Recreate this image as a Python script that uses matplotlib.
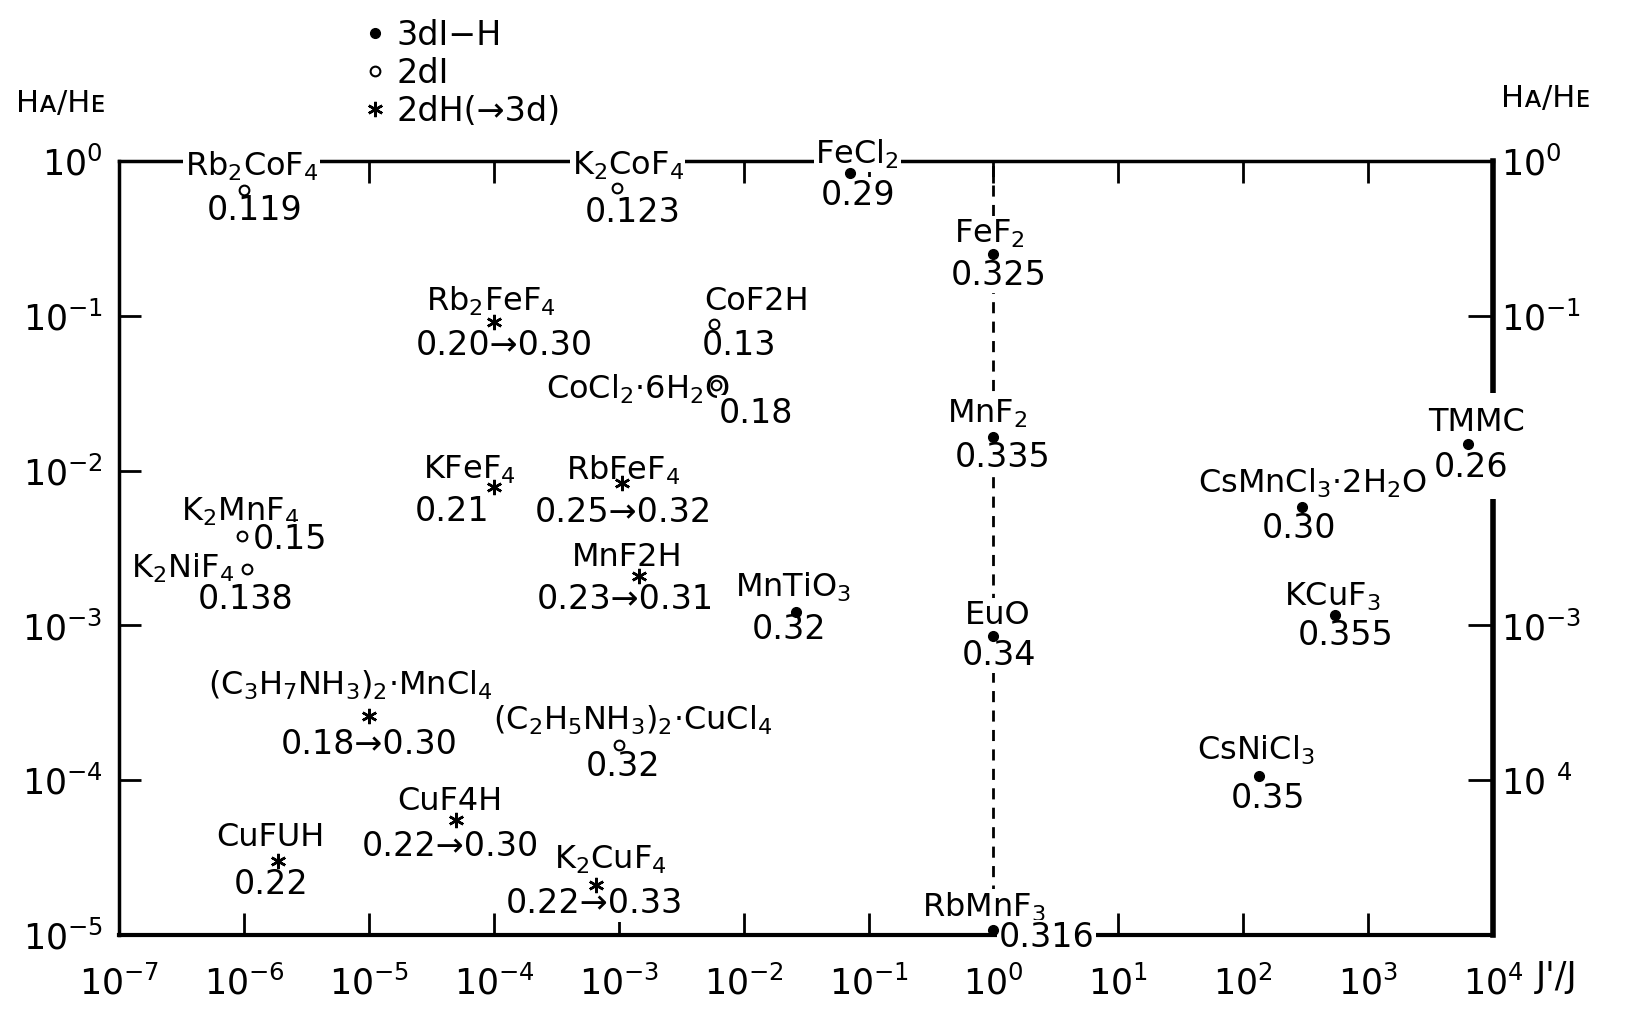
import matplotlib
matplotlib.use("Agg")
import matplotlib.pyplot as plt
from matplotlib.lines import Line2D

plt.rcParams['font.family'] = ['DejaVu Sans']
plt.rcParams['mathtext.default'] = 'regular'

# ---------------- data ----------------
names = ["Rb$_2$CoF$_4$", "K$_2$CoF$_4$", "FeCl$_2$", "FeF$_2$", "Rb$_2$FeF$_4$",
         "CoF2H", "CoCl$_2$·6H$_2$O", "MnF$_2$", "TMMC", "KFeF$_4$",
         "RbFeF$_4$", "K$_2$MnF$_4$", "K$_2$NiF$_4$", "CsMnCl$_3$·2H$_2$O", "MnF2H",
         "MnTiO$_3$", "EuO", "KCuF$_3$", "(C$_3$H$_7$NH$_3$)$_2$·MnCl$_4$",
         "(C$_2$H$_5$NH$_3$)$_2$·CuCl$_4$",
         "CsNiCl$_3$", "CuF4H", "CuFUH", "K$_2$CuF$_4$", "RbMnF$_3$"]
j_ratio = [1.0e-6, 9.7e-4, 0.071, 1.0, 1.0e-4,
           5.8e-3, 6.0e-3, 1.0, 6300, 1.0e-4,
           1.05e-3, 9.5e-7, 1.05e-6, 295, 1.45e-3,
           0.026, 1.0, 540, 1.0e-5, 1.0e-3,
           135, 5.0e-5, 1.86e-6, 6.5e-4, 1.0]
h_ratio = [0.65, 0.67, 0.84, 0.25, 0.091,
           0.088, 0.036, 0.0166, 0.0148, 7.8e-3,
           8.3e-3, 3.8e-3, 2.3e-3, 5.8e-3, 2.1e-3,
           1.23e-3, 8.5e-4, 1.17e-3, 2.6e-4, 1.7e-4,
           1.07e-4, 5.5e-5, 3.0e-5, 2.1e-5, 1.07e-5]
beta = ["0.119", "0.123", "0.29", "0.325", "0.20→0.30",
        "0.13", "0.18", "0.335", "0.26", "0.21",
        "0.25→0.32", "0.15", "0.138", "0.30", "0.23→0.31",
        "0.32", "0.34", "0.355", "0.18→0.30", "0.32",
        "0.35", "0.22→0.30", "0.22", "0.22→0.33", "0.316"]
kinds = ["open", "open", "filled", "filled", "star",
         "open", "open", "filled", "filled", "star",
         "star", "open", "open", "filled", "star",
         "filled", "filled", "filled", "star", "open",
         "filled", "star", "star", "star", "filled"]

x_ticks = [1e-7, 1e-6, 1e-5, 1e-4, 1e-3, 1e-2, 1e-1, 1e0, 1e1, 1e2, 1e3, 1e4]
x_ticklabels = ["$10^{-7}$", "$10^{-6}$", "$10^{-5}$", "$10^{-4}$", "$10^{-3}$", "$10^{-2}$",
                "$10^{-1}$", "$10^{0}$", "$10^{1}$", "$10^{2}$", "$10^{3}$", "$10^{4}$"]
y_ticks = [1e0, 1e-1, 1e-2, 1e-3, 1e-4, 1e-5]
y_ticklabels = ["$10^{0}$", "$10^{-1}$", "$10^{-2}$", "$10^{-3}$", "$10^{-4}$", "$10^{-5}$"]
yr_ticks = [1e0, 1e-1, 1e-3, 1e-4]
yr_ticklabels = ["$10^{0}$", "$10^{-1}$", "$10^{-3}$", "$10\ ^{4}$"]

legend_labels = ["3dI−H", "2dI", "2dH(→3d)"]

# ---------------- layout (label offsets, reference px) ----------------
name_off = [(7, 23), (10, 21), (7, 18), (-4, 20), (-3, 20),
            (41, 22), (-75, -5), (-6, 22), (8, 21), (-24, 17),
            (2, 12), (-1, 23), (-62, 1), (10, 23), (-11, 17),
            (-2, 23), (4, 20), (-2, 17), (-18, 30), (13, 23),
            (-3, 24), (-6, 18), (-7, 23), (14, 24), (-9, 22)]
val_off = [(10, -20), (15, -24), (8, -22), (5, -20), (10, -22),
           (24, -20), (38, -28), (9, -20), (3, -22), (-40, -23),
           (2, -28), (47, -4), (-1, -29), (-3, -20), (-13, -23),
           (-6, -17), (5, -18), (11, -20), (0, -27), (4, -21),
           (8, -22), (-6, -25), (-7, -22), (-1, -18), (51, -7)]
box_pad = [0.05] * 8 + [0.45] + [0.05] * 16

S = 1629 / 1568
W, H = 1629, 1014
fig = plt.figure(figsize=(W / 100, H / 100), dpi=100)
ax = fig.add_axes([115 / 1568, 1 - 900 / 976, (1437 - 115) / 1568, (900 - 155) / 976])
ax.set_xscale('log')
ax.set_yscale('log')
ax.set_xlim(1e-7, 1e4)
ax.set_ylim(1e-5, 1e0)

ax.spines['left'].set_linewidth(2.5)
ax.spines['top'].set_linewidth(2.5)
ax.spines['bottom'].set_linewidth(3)
ax.spines['right'].set_linewidth(4)

ax.set_xticks(x_ticks)
ax.set_xticklabels(x_ticklabels)
ax.set_yticks(y_ticks)
ax.set_yticklabels(y_ticklabels)
ax.minorticks_off()
ax.tick_params(axis='both', which='major', direction='in', length=16, width=2,
               labelsize=25, top=True, right=False)
ax.tick_params(axis='x', pad=22)
ax.tick_params(axis='y', pad=12)

ax2 = ax.twinx()
ax2.set_yscale('log')
ax2.set_ylim(1e-5, 1e0)
ax2.set_yticks(yr_ticks)
ax2.set_yticklabels(yr_ticklabels)
ax2.minorticks_off()
ax2.tick_params(axis='y', direction='in', length=18, width=2, labelsize=25, pad=6)
for sp in ax2.spines.values():
    sp.set_visible(False)

ax.axvline(1.0, color='black', lw=2, ls=(0, (4, 3)), zorder=1)

style = {
    "filled": dict(marker='o', mfc='black', mec='black', ms=7),
    "open": dict(marker='o', mfc='white', mec='black', ms=7, mew=1.5),
    "star": dict(marker=(6, 2, 0), mfc='black', mec='black', ms=11, mew=1.8),
}

for i in range(len(names)):
    ax.plot([j_ratio[i]], [h_ratio[i]], ls='none', zorder=6, clip_on=False, **style[kinds[i]])
    nx, ny = name_off[i]
    vx, vy = val_off[i]
    ax.annotate(names[i], (j_ratio[i], h_ratio[i]), xytext=(nx * S, ny * S),
                textcoords='offset pixels', ha='center', va='center', fontsize=23,
                zorder=5, annotation_clip=False,
                bbox=dict(boxstyle='square,pad=%g' % box_pad[i], fc='white', ec='none'))
    ax.annotate(beta[i], (j_ratio[i], h_ratio[i]), xytext=(vx * S, vy * S),
                textcoords='offset pixels', ha='center', va='center', fontsize=24,
                zorder=5, annotation_clip=False,
                bbox=dict(boxstyle='square,pad=%g' % box_pad[i], fc='white', ec='none'))

# axis titles
fig.text(15 / 1568, 1 - 100 / 976, "Hᴀ/Hᴇ", fontsize=22, ha='left', va='center')
fig.text(1445 / 1568, 1 - 95 / 976, "Hᴀ/Hᴇ", fontsize=22, ha='left', va='center')
fig.text(1478 / 1568, 1 - 940 / 976, "J'/J", fontsize=25, ha='left', va='center')

handles = [Line2D([], [], ls='none', **style["filled"]),
           Line2D([], [], ls='none', **style["open"]),
           Line2D([], [], ls='none', **style["star"])]
fig.legend(handles, legend_labels, loc='upper left',
           bbox_to_anchor=(335 / 1568, 1 - 2 / 976), frameon=False, fontsize=24,
           handlelength=0.6, handletextpad=0.35, labelspacing=0.15, borderpad=0)

fig.savefig("out.png", dpi=100)
